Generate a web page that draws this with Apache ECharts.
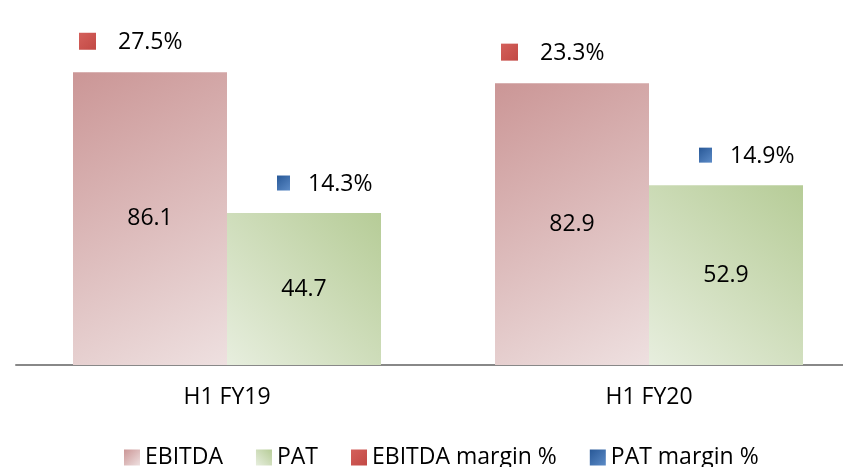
<!DOCTYPE html>
<html>
<head>
<meta charset="utf-8">
<script src="https://cdn.jsdelivr.net/npm/echarts@6/dist/echarts.min.js"></script>
<style>
html, body { margin: 0; padding: 0; background: #fff; }
#main { width: 843px; height: 467px; }
</style>
</head>
<body>
<div id="main"></div>
<script>
// data
var categories = ['H1 FY19', 'H1 FY20'];
var ebitda = [86.1, 82.9];
var pat = [44.7, 52.9];
var ebitdaMargin = [27.5, 23.3];
var patMargin = [14.3, 14.9];

var FONT = 'Open Sans';
var FS = 23;
var BAR_W = 154;

function grad(x, y, x2, y2, c1, c2) {
  return new echarts.graphic.LinearGradient(x, y, x2, y2, [
    { offset: 0, color: c1 }, { offset: 1, color: c2 }
  ]);
}

var ebitdaFill = grad(0, 0, 1, 1, '#CB9696', '#EEE0E0');
var patFill = grad(1, 0, 0, 1, '#B6CC97', '#E7EEDE');
var redFill = grad(0, 0, 1, 1, '#D4605B', '#C24945');
var blueFill = grad(0, 0, 1, 1, '#285897', '#5C8BC7');

// margin label = small square + text, placed above its bar
function marginItem(side, fill, sqW, sqH, sqX, textX, lift) {
  return function (params, api) {
    var p = api.coord([api.value(0), api.value(1)]);
    var cx = p[0] + side * BAR_W / 2;
    var cy = p[1] - lift;
    return {
      type: 'group',
      children: [{
        type: 'rect',
        shape: { x: cx + sqX, y: cy - sqH / 2, width: sqW, height: sqH },
        style: { fill: fill }
      }, {
        type: 'text',
        style: {
          x: cx + textX, y: cy + 1,
          text: api.value(2).toFixed(1) + '%',
          fontFamily: FONT, fontSize: FS, fill: '#000',
          verticalAlign: 'middle', align: 'left'
        }
      }]
    };
  };
}

var myChart = echarts.init(document.getElementById('main'));

var option = {
  animation: false,
  grid: { left: 16, top: 25, width: 844, height: 340, outerBoundsMode: 'none' },
  xAxis: {
    type: 'category',
    data: categories,
    axisLine: { lineStyle: { color: '#888888', width: 2 } },
    axisTick: { show: false },
    axisLabel: { color: '#000', fontFamily: FONT, fontSize: FS, margin: 21 }
  },
  yAxis: { type: 'value', min: 0, max: 100, show: false, splitLine: { show: false } },
  legend: {
    top: 441, left: 119,
    itemWidth: 16, itemHeight: 16, itemGap: 33,
    textStyle: { fontFamily: FONT, fontSize: FS, color: '#000' },
    data: [
      { name: 'EBITDA', icon: 'rect' },
      { name: 'PAT', icon: 'rect' },
      { name: 'EBITDA margin %', icon: 'rect' },
      { name: 'PAT margin %', icon: 'rect' }
    ]
  },
  series: [{
    name: 'EBITDA',
    type: 'bar',
    data: ebitda,
    barWidth: BAR_W,
    barGap: '0%',
    itemStyle: { color: ebitdaFill },
    label: { show: true, position: 'inside', color: '#000', fontFamily: FONT, fontSize: FS }
  }, {
    name: 'PAT',
    type: 'bar',
    data: pat,
    barWidth: BAR_W,
    barGap: '0%',
    itemStyle: { color: patFill },
    label: { show: true, position: 'inside', color: '#000', fontFamily: FONT, fontSize: FS }
  }, {
    name: 'EBITDA margin %',
    type: 'custom',
    clip: false,
    itemStyle: { color: redFill },
    renderItem: marginItem(-1, redFill, 17, 17, -71, -32, 31),
    data: categories.map(function (c, i) { return [i, ebitda[i], ebitdaMargin[i]]; })
  }, {
    name: 'PAT margin %',
    type: 'custom',
    clip: false,
    itemStyle: { color: blueFill },
    renderItem: marginItem(1, blueFill, 13, 15, -27, 4, 30),
    data: categories.map(function (c, i) { return [i, pat[i], patMargin[i]]; })
  }]
};

myChart.setOption(option);
</script>
</body>
</html>
